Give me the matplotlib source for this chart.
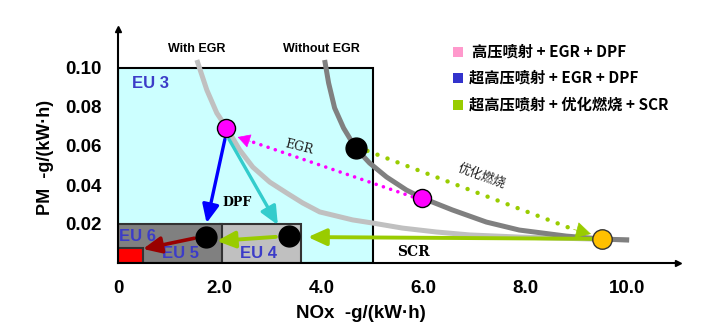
import matplotlib
matplotlib.use("Agg")
import matplotlib.pyplot as plt
from matplotlib.patches import Rectangle

# ---------------- data ----------------
with_egr_x = [1.549, 1.745, 1.941, 2.137, 2.392, 2.647, 2.980, 3.314, 3.627, 3.961, 4.608,
              5.000, 5.588, 6.255, 6.902, 7.882, 9.314, 10.04]
with_egr_y = [0.1041, 0.0887, 0.0769, 0.0692, 0.0579, 0.0492, 0.0415, 0.0359, 0.0308, 0.0262,
              0.0221, 0.0205, 0.0179, 0.0159, 0.0144, 0.0133, 0.0123, 0.0118]

without_egr_x = [4.059, 4.137, 4.255, 4.431, 4.667, 4.941, 5.275, 5.667, 5.980, 6.569, 7.235,
                 7.882, 8.804, 9.510, 10.04]
without_egr_y = [0.1041, 0.0923, 0.0795, 0.0692, 0.0590, 0.0513, 0.0441, 0.0374, 0.0333, 0.0272,
                 0.0210, 0.0169, 0.0138, 0.0123, 0.0118]

# EU limit boxes
box_names = ["EU 3", "EU 4", "EU 5", "EU 6"]
box_x0 = [0.0, 2.0, 0.0, 0.0]
box_x1 = [5.0, 3.6, 2.05, 0.49]
box_y1 = [0.10, 0.02, 0.02, 0.0077]

# operating points
pt_magenta_x = [2.13, 5.98]
pt_magenta_y = [0.0690, 0.0333]
pt_black_x = [4.67, 1.73, 3.35]
pt_black_y = [0.059, 0.0133, 0.0138]
pt_orange_x = [9.51]
pt_orange_y = [0.0123]

x_ticks = [0, 2, 4, 6, 8, 10]
x_tick_labels = ["0", "2.0", "4.0", "6.0", "8.0", "10.0"]
y_ticks = [0.02, 0.04, 0.06, 0.08, 0.10]
y_tick_labels = ["0.02", "0.04", "0.06", "0.08", "0.10"]

legend_labels = ["高压喷射 + EGR + DPF", "超高压喷射 + EGR + DPF", "超高压喷射 + 优化燃烧 + SCR"]
legend_colors = ["#ff99cc", "#3333cc", "#99cc00"]

# ---------------- figure ----------------
fig = plt.figure(figsize=(7.2, 3.35), dpi=100)
ax = fig.add_axes([118/720, 72/335, 560/720, 234/335])
ax.set_xlim(0, 11)
ax.set_ylim(0, 0.12)

for s in ["top", "right"]:
    ax.spines[s].set_visible(False)
ax.spines["left"].set_linewidth(1.5)
ax.spines["bottom"].set_linewidth(1.5)
ax.spines["left"].set_zorder(6)
ax.spines["bottom"].set_zorder(6)
ax.plot(1, 0, ">", color="black", markersize=5, transform=ax.transAxes, clip_on=False)
ax.plot(0, 1, "^", color="black", markersize=5, transform=ax.transAxes, clip_on=False)

ax.tick_params(length=0, pad=12)
ax.set_xticks(x_ticks)
ax.set_xticklabels(x_tick_labels)
ax.set_yticks(y_ticks)
ax.set_yticklabels(y_tick_labels)
for lab in ax.get_xticklabels() + ax.get_yticklabels():
    lab.set_fontfamily("Liberation Sans")
    lab.set_fontweight("bold")
    lab.set_fontsize(13.5)

ax.set_xlabel("NOx  -g/(kW·h)", fontfamily="Liberation Sans", fontweight="bold", fontsize=13.5)
ax.set_ylabel("PM  -g/(kW·h)", fontfamily="Liberation Sans", fontweight="bold", fontsize=13)
ax.xaxis.set_label_coords(0.434, -0.18)
ax.yaxis.set_label_coords(-0.114, 0.453)

# boxes
box_face = ["#ccffff", "#c0c0c0", "#808080", "#ff0000"]
box_edge = ["black", "#333333", "#333333", "#333333"]
for i in range(4):
    ax.add_patch(Rectangle((box_x0[i], 0), box_x1[i] - box_x0[i], box_y1[i],
                           facecolor=box_face[i], edgecolor=box_edge[i], lw=1.5, zorder=1 + i * 0.1))

eu_color = "#3c3cc8"
eu_kw = dict(color=eu_color, fontfamily="Liberation Sans", fontweight="bold", fontsize=12, zorder=3)
ax.text(0.63, 0.092, box_names[0], ha="center", va="center", **eu_kw)
ax.text(2.75, 0.0047, box_names[1], ha="center", va="center", **eu_kw)
ax.text(1.22, 0.0047, box_names[2], ha="center", va="center", **eu_kw)
ax.text(0.39, 0.0138, box_names[3], ha="center", va="center", **eu_kw)

# curves
ax.plot(with_egr_x, with_egr_y, color="#c0c0c0", lw=3.6, zorder=2, solid_capstyle="butt",
        solid_joinstyle="round")
ax.plot(without_egr_x, without_egr_y, color="#808080", lw=3.6, zorder=2, solid_capstyle="butt",
        solid_joinstyle="round")
ax.text(1.55, 0.110, "With EGR", ha="center", va="center", fontfamily="Liberation Sans",
        fontweight="bold", fontsize=9)
ax.text(4.0, 0.110, "Without EGR", ha="center", va="center", fontfamily="Liberation Sans",
        fontweight="bold", fontsize=9)

def head(x0, y0, x1, y1, color, ms=22, hl=0.45, hw=0.25):
    ax.annotate("", xy=(x1, y1), xytext=(x0, y0),
                arrowprops=dict(arrowstyle=f"-|>,head_length={hl},head_width={hw}",
                                color=color, lw=0.5, shrinkA=0, shrinkB=0,
                                mutation_scale=ms), zorder=5)

def solid_arrow(x0, y0, x1, y1, color, lw, ms=20):
    ax.annotate("", xy=(x1, y1), xytext=(x0, y0),
                arrowprops=dict(arrowstyle="-|>,head_length=0.55,head_width=0.25",
                                color=color, lw=lw, shrinkA=0, shrinkB=0,
                                mutation_scale=ms), zorder=5)

# dotted magenta EGR arrow
ax.plot([5.78, 2.55], [0.0340, 0.0629], color="#ff00ff", lw=2.6,
        linestyle=(0, (0.01, 2.1)), dash_capstyle="round", zorder=4)
head(2.6, 0.0624, 2.35, 0.0646, "#ff00ff", ms=18)
ax.text(3.55, 0.0595, "EGR", rotation=-14, ha="center", va="center",
        fontfamily="DejaVu Serif", fontsize=9, color="#222222")

# dotted green arrow
ax.plot([4.9, 9.0], [0.0575, 0.0167], color="#99cc00", lw=3.2,
        linestyle=(0, (0.01, 2.4)), dash_capstyle="round", zorder=4)
head(8.95, 0.0172, 9.29, 0.0149, "#99cc00", ms=22)
ax.text(7.15, 0.0445, "优化燃烧", rotation=-20, ha="center", va="center",
        fontfamily="Noto Sans CJK SC", fontsize=9, color="#222222")

# DPF arrows
solid_arrow(2.1, 0.0635, 1.74, 0.0205, "#0000ff", 2.4)
solid_arrow(2.18, 0.0635, 3.14, 0.0195, "#33cccc", 2.4)
ax.text(2.33, 0.031, "DPF", ha="center", va="center", fontfamily="DejaVu Serif",
        fontweight="bold", fontsize=9)

# SCR arrows
solid_arrow(9.3, 0.0124, 3.73, 0.0133, "#99cc00", 2.8)
ax.text(5.8, 0.0058, "SCR", ha="center", va="center", fontfamily="DejaVu Serif",
        fontweight="bold", fontsize=10)
solid_arrow(3.1, 0.0134, 1.94, 0.0113, "#99cc00", 2.8)
solid_arrow(1.5, 0.0127, 0.49, 0.0072, "#990000", 2.6)

# points
ax.plot(pt_magenta_x, pt_magenta_y, "o", ms=13, mfc="#ff00ff", mec="black", mew=1, zorder=7, linestyle="none")
ax.plot(pt_black_x, pt_black_y, "o", ms=15, mfc="black", mec="black", zorder=7, linestyle="none")
ax.plot(pt_orange_x, pt_orange_y, "o", ms=14, mfc="#ffc000", mec="#333333", mew=1, zorder=7, linestyle="none")

# legend
leg_y = [52, 78, 105]
for i in range(3):
    fig.patches.append(Rectangle((453/720, 1 - (leg_y[i] + 5)/335), 10/720, 10/335,
                                 facecolor=legend_colors[i], edgecolor="none",
                                 transform=fig.transFigure))
    fig.text((472 if i == 0 else 469)/720, 1 - leg_y[i]/335, legend_labels[i],
             ha="left", va="center", fontfamily=["Noto Sans CJK SC", "DejaVu Sans"],
             fontweight="bold", fontsize=11)

fig.savefig("out.png", dpi=100)
